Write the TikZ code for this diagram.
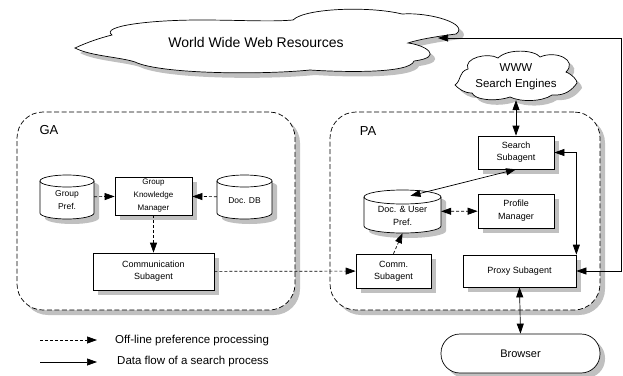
\documentclass[tikz,border=0pt]{standalone}
\usepackage{fontspec}
\setmainfont{Liberation Sans}
\usetikzlibrary{arrows.meta,shadows,calc}
\definecolor{shadowgray}{HTML}{C0C0C0}

\tikzset{
  softshadow/.style={drop shadow={shadow xshift=5pt,shadow yshift=-5pt,fill=shadowgray,opacity=1}},
  thinline/.style={line width=0.7pt},
  box/.style={draw,thinline,fill=white,softshadow,align=center,inner sep=0pt,
    font=\fontsize{9}{12}\selectfont},
  gabox/.style={box,font=\fontsize{8}{13}\selectfont},
  cylnode/.style={inner sep=0pt},
  cyl/.style={draw,thinline,fill=white,softshadow},
  cyltext/.style={align=center,inner sep=0pt,font=\fontsize{8.5}{13}\selectfont},
  container/.style={draw,thinline,fill=white,softshadow,rounded corners=26pt,
    dash pattern=on 5pt off 2.5pt,inner sep=0pt},
  cloudline/.style={draw,thinline,fill=white,softshadow},
  >={Triangle[length=10pt,width=7pt]},
  offline/.style={thinline,dash pattern=on 3pt off 2pt},
  flow/.style={thinline},
  legtext/.style={anchor=west,inner sep=0pt,font=\fontsize{11.5}{14}\selectfont},
}

\begin{document}
\begin{tikzpicture}[x=1pt,y=-1pt]
\useasboundingbox (0,0) rectangle (623,375);

% agent containers
\node[container,minimum width=278pt,minimum height=198pt] (ga) at (156,211) {};
\node[container,minimum width=270pt,minimum height=198pt] (pa) at (465,211) {};
\node[font=\fontsize{13}{15}\selectfont,inner sep=0pt] (galabel) at (49,130) {GA};
\node[font=\fontsize{13}{15}\selectfont,inner sep=0pt] (palabel) at (368,131) {PA};

% web resources cloud
\path[cloudline] (75,48)
  .. controls (88,42) and (100,38) .. (112,35)
  .. controls (100,26) and (150,20) .. (200,20)
  .. controls (240,20) and (270,22) .. (293,20)
  .. controls (305,8) and (370,6) .. (402,14)
  .. controls (430,12) and (470,24) .. (456,34)
  .. controls (440,36) and (420,39) .. (408,43)
  .. controls (425,45) and (445,57) .. (414,61)
  .. controls (410,74) and (340,72) .. (310,70)
  .. controls (260,75) and (160,74) .. (135,62)
  .. controls (120,57) and (90,56) .. (75,48) -- cycle;
\node[font=\fontsize{14}{16}\selectfont,inner sep=0pt] (www) at (256,42) {World Wide Web Resources};
\coordinate (wtip) at (438,38);

% search engines cloud
\path[cloudline] (455,85)
  .. controls (462,80) and (458,72) .. (468,69)
  .. controls (463,58) and (488,52) .. (498,58)
  .. controls (508,48) and (535,50) .. (540,57)
  .. controls (556,50) and (578,60) .. (566,72)
  .. controls (573,75) and (577,80) .. (577,83)
  .. controls (572,90) and (565,96) .. (552,95)
  .. controls (542,102) and (520,102) .. (510,97)
  .. controls (495,102) and (475,100) .. (472,93)
  .. controls (464,93) and (459,89) .. (455,85) -- cycle;
\node[align=center,inner sep=0pt,minimum width=120pt,minimum height=46pt,
  font=\fontsize{11.5}{16}\selectfont] (secloud) at (516,77) {WWW\\Search Engines};

% databases
\path[cyl] (40,181) -- (40,213) arc[start angle=180,end angle=0,x radius=27,y radius=6]
  -- (94,181) arc[start angle=0,end angle=-180,x radius=27,y radius=6] -- cycle;
\draw[thinline] (40,181) arc[start angle=180,end angle=0,x radius=27,y radius=6];
\node[cylnode,minimum width=54pt,minimum height=44pt] (gpref) at (67,197) {};
\node[cyltext] at ($(gpref.center)+(0,3.5)$) {Group\\Pref.};

\path[cyl] (217,181) -- (217,213) arc[start angle=180,end angle=0,x radius=27.5,y radius=6]
  -- (272,181) arc[start angle=0,end angle=-180,x radius=27.5,y radius=6] -- cycle;
\draw[thinline] (217,181) arc[start angle=180,end angle=0,x radius=27.5,y radius=6];
\node[cylnode,minimum width=55pt,minimum height=44pt] (docdb) at (244.5,197) {};
\node[cyltext] at ($(docdb.center)+(0,3.5)$) {Doc. DB};

\path[cyl] (364,197) -- (364,226) arc[start angle=180,end angle=0,x radius=38.5,y radius=7]
  -- (441,197) arc[start angle=0,end angle=-180,x radius=38.5,y radius=7] -- cycle;
\draw[thinline] (364,197) arc[start angle=180,end angle=0,x radius=38.5,y radius=7];
\node[cylnode,minimum width=77pt,minimum height=43pt] (docuser) at (402.5,211.5) {};
\node[cyltext,font=\fontsize{9}{13}\selectfont] at ($(docuser.center)+(0,4)$) {Doc. \& User\\Pref.};

% agent components
\node[gabox,minimum width=77pt,minimum height=38pt] (gkm) at (153.5,196) {Group\\Knowledge\\Manager};
\node[box,minimum width=121pt,minimum height=37pt] (comm) at (153.5,271.5) {Communication\\Subagent};
\node[box,minimum width=76pt,minimum height=33pt] (search) at (516,152.5) {Search\\Subagent};
\node[box,minimum width=76pt,minimum height=34pt,font=\fontsize{9}{13}\selectfont] (profile) at (516,211) {Profile\\Manager};
\node[box,minimum width=75pt,minimum height=34pt] (comm2) at (393.5,271) {Comm.\\Subagent};
\node[box,minimum width=113pt,minimum height=32pt] (proxy) at (519.5,271) {Proxy Subagent};
\node[box,minimum width=159pt,minimum height=39pt,rounded corners=19pt,
  font=\fontsize{11}{13}\selectfont] (browser) at (520.5,353.5) {Browser};

% off-line preference processing
\draw[offline,->] (gpref) -- (gkm);
\draw[offline,->] (docdb) -- (gkm);
\draw[offline,->] (gkm) -- (comm);
\draw[offline,->] (comm) -- (comm2);
\draw[offline,->] (comm2.north) -- (docuser.south);
\draw[offline,<->] (docuser) -- (profile);

% search data flow
\draw[flow,<->] ($(docuser.north)+(8,6)$) -- (search.south);
\draw[flow,<->] (search.north) -- (search.north |- secloud.south);
\draw[flow,<->] (proxy.north east) |- (search.east);
\draw[flow,<->] (wtip) -- ++(183,0) |- (proxy.east);
\draw[flow,<->] (proxy.south) -- (browser.north);

% legend
\coordinate (lega) at (40,340);
\coordinate (legb) at (97,340);
\coordinate (legc) at (40,362);
\coordinate (legd) at (97,362);
\draw[offline,->] (lega) -- (legb);
\draw[flow,->] (legc) -- (legd);
\node[legtext] (legoff) at (115,341) {Off-line preference processing};
\node[legtext] (legflow) at (117,362) {Data flow of a search process};
\end{tikzpicture}
\end{document}
